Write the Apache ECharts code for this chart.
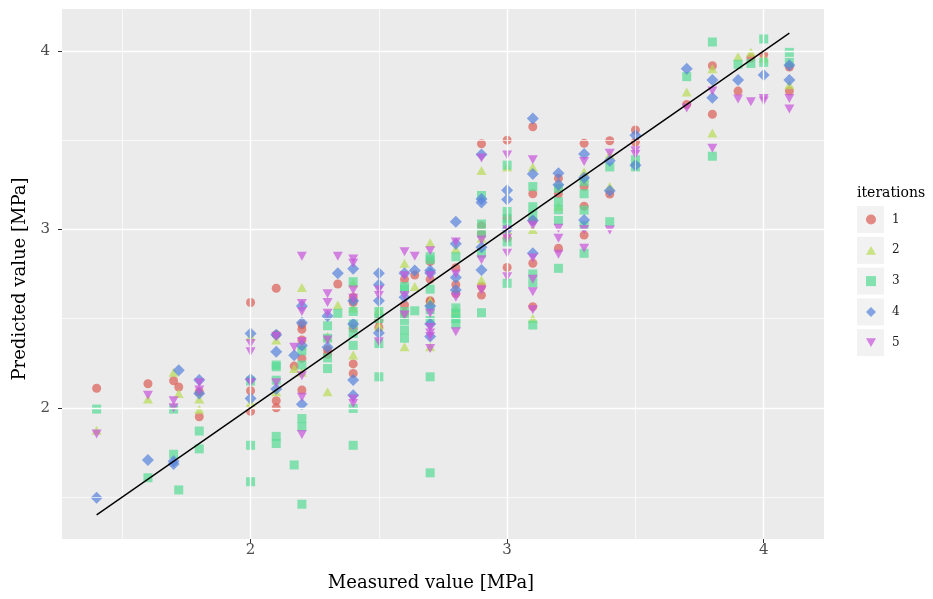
<!DOCTYPE html>
<html>
<head>
<meta charset="utf-8">
<script src="https://cdn.jsdelivr.net/npm/echarts@6/dist/echarts.min.js"></script>
<style>
  html, body { margin: 0; padding: 0; background: #ffffff; }
  #chart { width: 933px; height: 599px; }
</style>
</head>
<body>
<div id="chart"></div>
<script>
// Predicted vs. measured strength, five model iterations: [measured, predicted]
const iter1 = [
  [1.4, 2.11], [1.6, 2.135], [1.7, 2.152], [1.72, 2.117], [1.8, 2.09], [1.8, 1.95],
  [2.0, 2.59], [2.0, 2.096], [2.0, 1.98], [2.1, 2.67], [2.1, 2.41], [2.1, 2.04], [2.1, 2.0],
  [2.17, 2.234], [2.2, 2.465], [2.2, 2.44], [2.2, 2.38], [2.2, 2.277], [2.2, 2.10],
  [2.3, 2.325], [2.3, 2.30], [2.34, 2.694], [2.4, 2.62], [2.4, 2.59], [2.4, 2.446], [2.4, 2.246], [2.4, 2.193],
  [2.5, 2.49], [2.5, 2.45], [2.6, 2.72], [2.6, 2.576], [2.6, 2.53], [2.64, 2.744],
  [2.7, 2.82], [2.7, 2.72], [2.7, 2.595], [2.7, 2.60], [2.8, 2.785], [2.8, 2.69], [2.8, 2.64],
  [2.9, 3.48], [2.9, 3.02], [2.9, 2.978], [2.9, 2.68], [2.9, 2.632],
  [3.0, 3.50], [3.0, 3.064], [3.0, 2.95], [3.0, 2.787],
  [3.1, 3.575], [3.1, 3.2], [3.1, 3.05], [3.1, 2.81], [3.1, 2.567],
  [3.2, 3.286], [3.2, 3.2], [3.2, 2.894], [3.3, 3.482], [3.3, 3.24], [3.3, 3.13], [3.3, 2.968],
  [3.4, 3.497], [3.4, 3.198], [3.5, 3.557], [3.5, 3.49], [3.7, 3.70], [3.8, 3.917], [3.8, 3.645],
  [3.9, 3.775], [3.95, 3.96], [4.0, 3.98], [4.1, 3.91], [4.1, 3.775]
];
const iter2 = [
  [1.4, 1.875], [1.6, 2.05], [1.7, 2.20], [1.72, 2.08], [1.8, 2.05], [1.8, 1.99],
  [2.0, 2.40], [2.0, 2.03], [2.1, 2.38], [2.1, 2.09], [2.17, 2.22],
  [2.2, 2.675], [2.2, 2.35], [2.2, 2.20], [2.3, 2.40], [2.3, 2.09], [2.34, 2.576],
  [2.4, 2.70], [2.4, 2.56], [2.4, 2.296], [2.5, 2.55], [2.5, 2.46], [2.6, 2.81], [2.6, 2.343], [2.64, 2.68],
  [2.7, 2.925], [2.7, 2.60], [2.7, 2.343], [2.8, 2.89], [2.8, 2.55],
  [2.9, 3.33], [2.9, 2.95], [2.9, 2.716], [3.0, 3.35], [3.0, 3.0], [3.1, 3.35], [3.1, 3.0], [3.1, 2.50],
  [3.2, 3.25], [3.2, 3.13], [3.3, 3.323], [3.3, 3.29], [3.4, 3.42], [3.4, 3.24], [3.5, 3.38],
  [3.7, 3.77], [3.8, 3.90], [3.8, 3.54], [3.9, 3.967], [3.95, 3.992], [4.0, 3.96], [4.1, 3.81]
];
const iter3 = [
  [1.4, 1.993], [1.6, 1.608], [1.7, 1.993], [1.7, 1.74], [1.72, 1.54], [1.8, 1.87], [1.8, 1.77],
  [2.0, 2.15], [2.0, 1.79], [2.0, 1.586], [2.1, 2.24], [2.1, 2.23], [2.1, 2.155], [2.1, 1.84], [2.1, 1.80],
  [2.17, 1.68], [2.2, 2.32], [2.2, 2.24], [2.2, 1.94], [2.2, 1.894], [2.2, 1.46],
  [2.3, 2.46], [2.3, 2.39], [2.3, 2.28], [2.3, 2.22], [2.34, 2.53],
  [2.4, 2.707], [2.4, 2.54], [2.4, 2.47], [2.4, 2.417], [2.4, 2.35], [2.4, 1.997], [2.4, 1.79],
  [2.5, 2.54], [2.5, 2.5], [2.5, 2.36], [2.5, 2.174],
  [2.6, 2.68], [2.6, 2.665], [2.6, 2.54], [2.6, 2.49], [2.6, 2.436], [2.6, 2.39], [2.64, 2.544],
  [2.7, 2.847], [2.7, 2.83], [2.7, 2.665], [2.7, 2.55], [2.7, 2.49], [2.7, 2.174], [2.7, 1.636],
  [2.8, 2.847], [2.8, 2.56], [2.8, 2.53], [2.8, 2.50], [2.8, 2.47],
  [2.9, 3.19], [2.9, 3.03], [2.9, 2.98], [2.9, 2.866], [2.9, 2.533],
  [3.0, 3.36], [3.0, 3.10], [3.0, 3.06], [3.0, 3.03], [3.0, 2.93], [3.0, 2.698],
  [3.1, 3.24], [3.1, 3.127], [3.1, 3.08], [3.1, 2.75], [3.1, 2.70], [3.1, 2.464],
  [3.2, 3.23], [3.2, 3.155], [3.2, 3.11], [3.2, 3.05], [3.2, 2.782],
  [3.3, 3.267], [3.3, 3.2], [3.3, 3.108], [3.3, 3.02], [3.3, 2.866],
  [3.4, 3.35], [3.4, 3.043], [3.5, 3.39], [3.5, 3.35], [3.7, 3.856], [3.8, 4.05], [3.8, 3.41],
  [3.9, 3.925], [3.95, 3.93], [4.0, 4.067], [4.0, 3.936], [4.1, 3.992], [4.1, 3.936]
];
const iter4 = [
  [1.4, 1.496], [1.6, 1.707], [1.7, 1.70], [1.7, 1.685], [1.72, 2.21], [1.8, 2.156], [1.8, 2.08],
  [2.0, 2.417], [2.0, 2.16], [2.0, 2.053], [2.1, 2.41], [2.1, 2.315], [2.1, 2.105], [2.17, 2.295],
  [2.2, 2.57], [2.2, 2.477], [2.2, 2.35], [2.2, 2.02], [2.3, 2.515], [2.3, 2.34], [2.34, 2.754],
  [2.4, 2.78], [2.4, 2.60], [2.4, 2.47], [2.4, 2.156], [2.4, 2.07],
  [2.5, 2.754], [2.5, 2.69], [2.5, 2.6], [2.5, 2.42], [2.6, 2.754], [2.6, 2.62], [2.64, 2.77],
  [2.7, 2.77], [2.7, 2.755], [2.7, 2.57], [2.7, 2.47], [2.7, 2.40],
  [2.8, 3.043], [2.8, 2.92], [2.8, 2.73], [2.8, 2.66],
  [2.9, 3.42], [2.9, 3.17], [2.9, 3.15], [2.9, 2.90], [2.9, 2.772],
  [3.0, 3.22], [3.0, 3.168], [3.0, 3.0], [3.1, 3.622], [3.1, 3.31], [3.1, 3.05], [3.1, 2.866],
  [3.2, 3.314], [3.2, 3.25], [3.3, 3.422], [3.3, 3.29], [3.3, 3.052], [3.4, 3.385], [3.4, 3.217],
  [3.5, 3.528], [3.5, 3.36], [3.7, 3.90], [3.8, 3.837], [3.8, 3.738], [3.9, 3.837], [4.0, 3.865],
  [4.1, 3.92], [4.1, 3.837]
];
const iter5 = [
  [1.4, 1.853], [1.6, 2.07], [1.7, 2.04], [1.7, 2.00], [1.8, 2.14], [1.8, 2.10],
  [2.0, 2.36], [2.0, 2.315], [2.0, 2.14], [2.1, 2.40], [2.1, 2.14], [2.17, 2.34],
  [2.2, 2.85], [2.2, 2.585], [2.2, 2.54], [2.2, 2.37], [2.2, 2.18], [2.2, 2.06], [2.2, 1.85],
  [2.3, 2.64], [2.3, 2.59], [2.3, 2.53], [2.3, 2.38], [2.34, 2.85],
  [2.4, 2.834], [2.4, 2.81], [2.4, 2.66], [2.4, 2.614], [2.4, 2.05], [2.4, 2.025],
  [2.5, 2.66], [2.5, 2.63], [2.5, 2.37], [2.6, 2.875], [2.6, 2.74], [2.6, 2.63], [2.6, 2.52], [2.64, 2.85],
  [2.7, 2.88], [2.7, 2.74], [2.7, 2.53], [2.7, 2.45], [2.7, 2.42], [2.7, 2.40], [2.7, 2.333],
  [2.8, 2.93], [2.8, 2.75], [2.8, 2.62], [2.8, 2.427],
  [2.9, 3.40], [2.9, 2.94], [2.9, 2.83], [2.9, 2.66],
  [3.0, 3.417], [3.0, 2.997], [3.0, 2.95], [3.0, 2.866], [3.0, 2.735],
  [3.1, 3.39], [3.1, 3.02], [3.1, 2.84], [3.1, 2.72], [3.1, 2.65], [3.1, 2.55],
  [3.2, 3.006], [3.2, 2.95], [3.2, 2.86], [3.3, 3.38], [3.3, 3.0], [3.3, 2.894],
  [3.4, 3.426], [3.4, 2.997], [3.5, 3.44], [3.5, 3.42], [3.7, 3.68], [3.8, 3.775], [3.8, 3.454],
  [3.9, 3.73], [3.95, 3.715], [4.0, 3.734], [4.0, 3.72], [4.1, 3.734], [4.1, 3.675]
];

// Identity reference line (prediction == measurement)
const identityLine = [[1.4, 1.4], [4.1, 4.1]];

const seriesNames = ['1', '2', '3', '4', '5'];
const seriesColors = ['#DB5F57', '#B9DB57', '#57DB94', '#5784DB', '#C957DB'];
const majorTicks = [2, 3, 4];
const minorTicks = [1.5, 2.5, 3.5];
const axisMin = 1.265;
const axisMax = 4.235;

const FONT = 'DejaVu Serif';

const symbols = [
  { symbol: 'circle', size: 9 },
  { symbol: 'path://M5,0 L10,8.7 L0,8.7 Z', size: [10, 9] },
  { symbol: 'rect', size: 9 },
  { symbol: 'diamond', size: 12 },
  { symbol: 'path://M0,0 L10,0 L5,8.7 Z', size: [10, 9] }
];
const allData = [iter1, iter2, iter3, iter4, iter5];

const chart = echarts.init(document.getElementById('chart'), null, { renderer: 'canvas' });

// White panel grid: thick major lines, thin minor lines
const gridLines = [];
majorTicks.forEach(v => {
  gridLines.push({ xAxis: v, lineStyle: { width: 1.4 } });
  gridLines.push({ yAxis: v, lineStyle: { width: 1.4 } });
});
minorTicks.forEach(v => {
  gridLines.push({ xAxis: v, lineStyle: { width: 0.7 } });
  gridLines.push({ yAxis: v, lineStyle: { width: 0.7 } });
});

const pointSeries = seriesNames.map((name, i) => ({
  name: name,
  type: 'scatter',
  data: allData[i],
  symbol: symbols[i].symbol,
  symbolSize: symbols[i].size,
  itemStyle: { color: seriesColors[i], opacity: 0.72 },
  emphasis: { disabled: true },
  z: 3
}));

const axisCommon = {
  type: 'value',
  min: axisMin,
  max: axisMax,
  axisLine: { show: false },
  splitLine: { show: false },
  axisTick: { show: true, length: 4, lineStyle: { color: '#333333', width: 1 }, customValues: majorTicks },
  axisLabel: { customValues: majorTicks, color: '#4D4D4D', fontFamily: FONT, fontSize: 15 }
};

chart.setOption({
  animation: false,
  backgroundColor: '#ffffff',
  grid: {
    left: 62, top: 9, width: 762, height: 530,
    show: true, backgroundColor: '#EBEBEB', borderWidth: 0
  },
  title: {
    text: 'iterations',
    left: 857, top: 186, padding: 0,
    textStyle: { fontFamily: FONT, fontSize: 14, fontWeight: 'normal', color: '#000000' }
  },
  legend: {
    data: seriesNames,
    orient: 'vertical',
    left: 866, top: 213.5,
    padding: 0,
    itemWidth: 10, itemHeight: 10,
    itemGap: 18.8,
    selectedMode: false,
    textStyle: { fontFamily: FONT, fontSize: 12, color: '#1a1a1a', padding: [0, 0, 0, 11] }
  },
  graphic: seriesNames.map((n, i) => ({
    type: 'rect', left: 857, top: 206 + i * 30.8, z: -1,
    shape: { width: 27, height: 27 },
    style: { fill: '#F2F2F2' }
  })),
  xAxis: Object.assign({}, axisCommon, {
    name: 'Measured value [MPa]',
    nameLocation: 'middle', nameGap: 35,
    nameTextStyle: { fontFamily: FONT, fontSize: 18, color: '#000000', padding: [0, 24, 0, 0] },
    axisLabel: Object.assign({}, axisCommon.axisLabel, { margin: 4 })
  }),
  yAxis: Object.assign({}, axisCommon, {
    name: 'Predicted value [MPa]',
    nameLocation: 'middle', nameGap: 30,
    nameTextStyle: { fontFamily: FONT, fontSize: 18, color: '#000000', padding: [0, 10, 0, 0] },
    axisLabel: Object.assign({}, axisCommon.axisLabel, { margin: 12 })
  }),
  series: [
    {
      name: 'grid',
      type: 'scatter',
      data: [],
      silent: true,
      z: 1,
      markLine: {
        silent: true,
        symbol: 'none',
        label: { show: false },
        animation: false,
        lineStyle: { color: '#FFFFFF', type: 'solid' },
        emphasis: { disabled: true },
        data: gridLines
      }
    },
    ...pointSeries,
    {
      name: 'identity',
      type: 'line',
      data: identityLine,
      symbol: 'none',
      lineStyle: { color: '#000000', width: 1.4 },
      silent: true,
      z: 5
    }
  ]
});
</script>
</body>
</html>
